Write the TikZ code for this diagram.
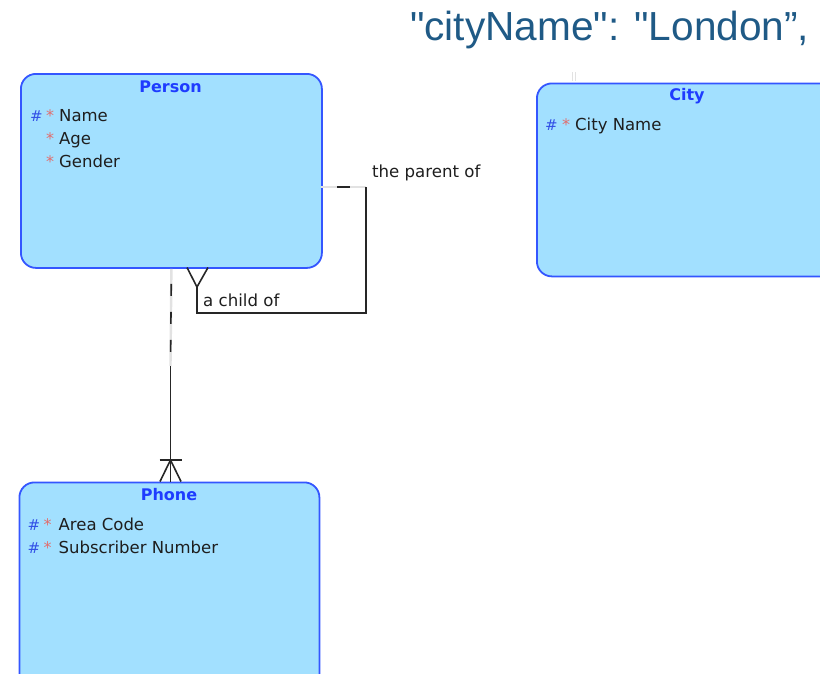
\documentclass[tikz,border=0pt]{standalone}
\usepackage{fontspec}
\setmainfont{DejaVu Sans}
\newfontfamily\jsonfont{Liberation Sans}
\usetikzlibrary{calc}

\definecolor{entfill}{RGB}{162,224,255}
\definecolor{entline}{RGB}{52,86,255}
\definecolor{enttitle}{RGB}{30,60,255}
\definecolor{pkmark}{RGB}{50,80,230}
\definecolor{reqmark}{RGB}{225,110,110}
\definecolor{attrtext}{RGB}{30,30,30}
\definecolor{jsonblue}{RGB}{31,90,134}
\definecolor{ghost}{RGB}{226,226,226}

\tikzset{
  entity/.style={draw=entline, fill=entfill, line width=1.8pt,
    rounded corners=15pt, inner sep=0pt, anchor=north west},
  etitle/.style={anchor=base, text=enttitle, inner sep=0pt,
    font=\fontsize{16}{19}\selectfont\bfseries},
  attr/.style={anchor=base west, text=attrtext, inner sep=0pt,
    font=\fontsize{16.5}{20}\selectfont},
  pk/.style={anchor=base west, text=pkmark, inner sep=0pt,
    font=\fontsize{15}{18}\selectfont},
  req/.style={anchor=base west, text=reqmark, inner sep=0pt,
    font=\fontsize{16}{18}\selectfont},
  rel/.style={draw=black!85, line width=1.6pt},
  ghostline/.style={draw=ghost, line width=2.4pt},
  rlabel/.style={anchor=base west, text=attrtext, inner sep=0pt,
    font=\fontsize{16.6}{19}\selectfont},
}

\begin{document}
\begin{tikzpicture}[x=1pt, y=-1pt]
  \useasboundingbox (0,0) rectangle (820,673);
  \clip (0,0) rectangle (820,673);

  % JSON fragment
  \node[anchor=base west, text=jsonblue, inner sep=0pt,
        font=\jsonfont\fontsize{40.6}{46}\selectfont] (json) at (410,40)
        {"cityName": "London”,};

  % entities
  \node[entity, minimum width=301pt, minimum height=194pt] (person) at (20,73) {};
  \node[entity, minimum width=320pt, minimum height=193pt] (city) at (536,82.5) {};
  \node[entity, minimum width=300pt, minimum height=220pt] (phone) at (18.5,481.5) {};

  % Person
  \node[etitle] (personT) at (170.5,92) {Person};
  \node[pk]  (personK1) at (30,121.5) {\#};
  \node[req] (personR1) at (46,121.5) {*};
  \node[attr] (personA1) at (59,121.5) {Name};
  \node[req] (personR2) at (46,144.5) {*};
  \node[attr] (personA2) at (59,144.5) {Age};
  \node[req] (personR3) at (46,167.5) {*};
  \node[attr] (personA3) at (59,167.5) {Gender};

  % City
  \node[etitle] (cityT) at (687,100) {City};
  \node[pk]  (cityK1) at (545,130) {\#};
  \node[req] (cityR1) at (562,130) {*};
  \node[attr] (cityA1) at (575,130) {City Name};
  \coordinate (cityStubA) at (572.5,72);
  \coordinate (cityStubB) at (572.5,81);
  \coordinate (cityStubC) at (575.5,72);
  \coordinate (cityStubD) at (575.5,81);
  \draw[draw=ghost, line width=1pt] (cityStubA) -- (cityStubB) (cityStubC) -- (cityStubD);

  % Person -- Phone (optional at Person, one-or-many at Phone)
  \coordinate (ppStart) at ($(person.south)+(0,0)$);
  \coordinate (ppMid) at (170.5,366);
  \coordinate (ppEnd) at (170.5,481.5);
  \coordinate (ppBar) at (170.5,460);
  \coordinate (ppBarL) at (159.5,460);
  \coordinate (ppBarR) at (181.5,460);
  \coordinate (ppFootL) at (160,481.5);
  \coordinate (ppFootR) at (181,481.5);
  \draw[ghostline] (ppStart) -- (ppMid);
  \draw[rel, dash pattern=on 12pt off 16pt, dash phase=13pt] (ppStart) -- (ppMid);
  \draw[rel, line width=1.9pt] (ppMid) -- (ppEnd);
  \draw[rel] (ppBarL) -- (ppBarR);
  \draw[rel] (ppFootL) -- (ppBar) -- (ppFootR);

  % Phone
  \node[etitle] (phoneT) at (169,500) {Phone};
  \node[pk]  (phoneK1) at (27.5,530) {\#};
  \node[req] (phoneR1) at (43.5,530) {*};
  \node[attr] (phoneA1) at (58.5,530) {Area Code};
  \node[pk]  (phoneK2) at (27.5,553) {\#};
  \node[req] (phoneR2) at (43.5,553) {*};
  \node[attr] (phoneA2) at (58.5,553) {Subscriber Number};

  % Person -- Person (the parent of / a child of)
  \coordinate (slStart) at (321,187);
  \coordinate (slTop) at (366,187);
  \coordinate (slBottom) at (366,313);
  \coordinate (slLeft) at (197,313);
  \coordinate (slApex) at (197,287);
  \coordinate (slFootL) at (187,267.5);
  \coordinate (slFootR) at (208,267.5);
  \draw[ghostline] (slStart) -- (slTop);
  \draw[rel, shorten <=16pt, shorten >=16pt] (slStart) -- (slTop);
  \draw[rel] (slTop) -- (slBottom) -- (slLeft) -- (slApex);
  \draw[rel] (slFootL) -- (slApex) -- (slFootR);

  \node[rlabel] (parentL) at (372,177) {the parent of};
  \node[rlabel] (childL) at (203,306.5) {a child of};
\end{tikzpicture}
\end{document}
